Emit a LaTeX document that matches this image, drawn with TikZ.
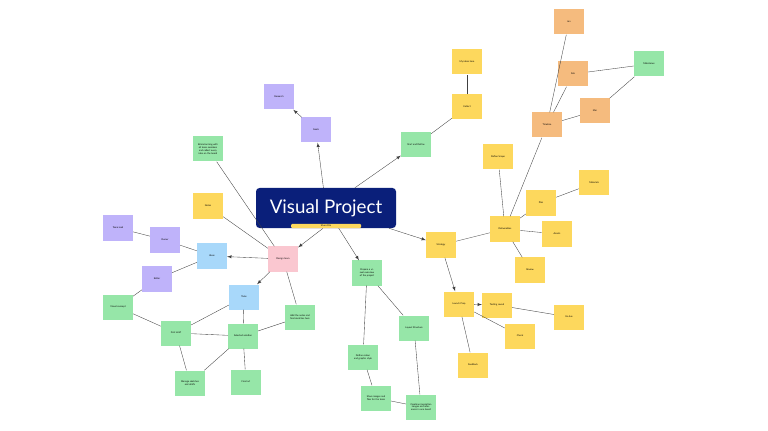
\documentclass[tikz,border=0pt]{standalone}
\usepackage{fontspec}
\setmainfont{Lato}
\usetikzlibrary{positioning,arrows}
\definecolor{navy}{HTML}{0A1F7A}
\definecolor{sy}{HTML}{FDD85D}
\definecolor{sg}{HTML}{96E6A8}
\definecolor{sp}{HTML}{BFB3FA}
\definecolor{so}{HTML}{F5BB7E}
\definecolor{sb}{HTML}{A8D8FA}
\definecolor{sk}{HTML}{FAC7D0}
\tikzstyle{note}=[draw=none, text centered, minimum width=0.72cm, minimum height=0.75cm, text width=0.66cm, align=center, font=\fontsize{2}{2.4}\selectfont]
\tikzstyle{link}=[draw=black!75, line width=0.3pt]
\tikzstyle{arr}=[link, -latex]
\begin{document}
\begin{tikzpicture}[x=0.03cm,y=-0.03cm]
   \useasboundingbox (0,0) rectangle (768,431);
   \node[fill=navy, rounded corners=3pt, minimum width=4.2cm, minimum height=1.2cm, text=white, font=\fontsize{16}{18}\selectfont] (main) at (326,208) {Visual Project};
   \node[fill=sy, rounded corners=1pt, minimum width=2.1cm, minimum height=0.13cm, inner sep=0pt, font=\fontsize{2}{2}\selectfont] (share) at (326,226) {Share File};
   % notes: name/x/y/colour/text
   \foreach \n/\x/\y/\c/\t in {P1/279/97/sp/Research, P2/316/130/sp/Goals,
      G1/416/145/sg/Start and Define, Y1/467/107/sy/Collect, Y2/467/62/sy/My ideas here,
      O1/547/125/so/Timeline, O2/569/22/so/Jan, O3/573/74/so/Feb, O4/595/111/so/Mar, G2/649/64/sg/Milestones,
      Ya/441/245/sy/Strategy, Yb/505/229/sy/Deliverables, Yc/498/157/sy/Define Scope, Yd/541/203/sy/Plan,
      Ye/594/183/sy/Materials, Yf/557/234/sy/Assets, Yg/530/270/sy/Review,
      Yh/459/304/sy/Launch Prep, Yi/497/305/sy/Testing round, Yj/520/336/sy/Check, Yk/569/317/sy/Go live, Yl/473/365/sy/Feedback,
      Gc/367/273/sg/Prepare a visual overview of the project, Gd/414/328/sg/Layout Structure,
      Ge/363/357/sg/Define colour and graphic style, Gf/376/398/sg/Share images and files for the team,
      Gg/421/407/sg/Combine inspiration images and references in one board,
      Pk/283/259/sk/Design team, Ym/208/206/sy/Notes, Gt/208/149/sg/Brainstorming with all team members and collect every idea on the board,
      B1/212/256/sb/Ideas, B2/244/297/sb/Tasks, Pa/118/228/sp/Team lead, Pb/165/240/sp/Owner, Pc/157/279/sp/Editor,
      Ga/118/307/sg/Visual concept, Gh/176/333/sg/First draft, Gi/243/336/sg/Selected solution,
      Gj/300/317/sg/Add the notes and final sketches here, Gk/190/383/sg/Manage sketches and drafts, Gl/246/382/sg/Final art}
      \node[note, fill=\c] (\n) at (\x,\y) {\t};
   \foreach \a/\b in {main/P2, P2/P1, main/G1, main/Ya, main/Gc, share/Pk, Pk/B1, Pk/B2, Ya/Yh, Yh/Yi}
      \draw[arr] (\a) -- (\b);
   \foreach \a/\b in {G1/Y1, Y1/Y2, Ya/Yb, Yb/Yc, Yb/O1, O1/O2, O1/O3, O1/O4, O3/G2, O4/G2, Yb/Yd, Yd/Ye,
      Yb/Yf, Yb/Yg, Yi/Yk, Yh/Yj, Yh/Yl, Gc/Gd, Gc/Ge, Ge/Gf, Gf/Gg, Gd/Gg, Pk/Gt, Pk/Ym, Pk/Gj,
      B1/Pb, B1/Pc, Pb/Pa, Pc/Ga, Ga/Gh, B2/Gh, B2/Gi, Gh/Gi, Gh/Gk, Gk/Gi, Gi/Gl, Gj/Gi}
      \draw[link] (\a) -- (\b);
\end{tikzpicture}
\end{document}
